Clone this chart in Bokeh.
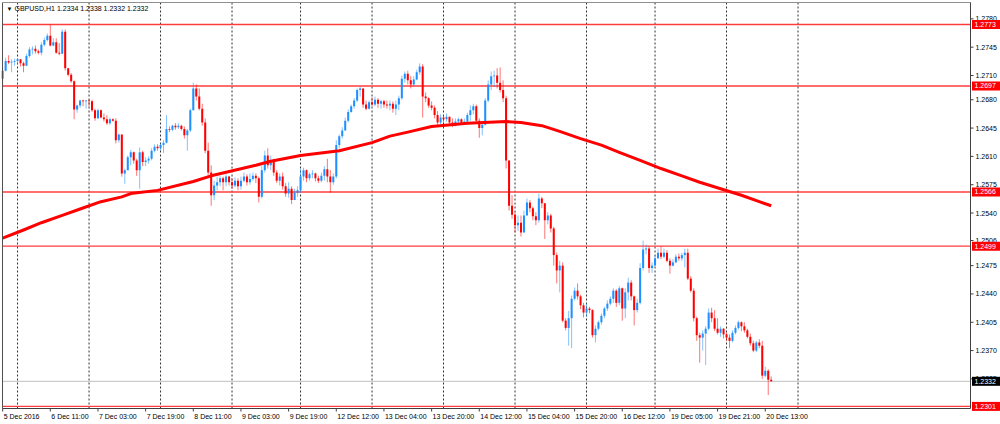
from bokeh.plotting import figure
from bokeh.models import Range1d, ColumnDataSource
from bokeh.embed import file_html
from bokeh.resources import INLINE
from bokeh.core.properties import value

SYMBOL = "GBPUSD,H1"
first_open = 1.2706

closes = [
 1.2716,1.2728,1.2726,1.2727,1.2728,1.2730,1.2725,1.2722,1.2734,1.2742,
 1.2743,1.2740,1.2738,1.2748,1.2754,1.2759,1.2747,1.2751,1.2738,1.2737,
 1.2764,1.2719,1.2711,1.2703,1.2668,1.2673,1.2679,1.2678,1.2679,1.2678,
 1.2667,1.2657,1.2667,1.2658,1.2656,1.2651,1.2656,1.2654,1.2630,1.2637,
 1.2589,1.2593,1.2609,1.2615,1.2605,1.2593,1.2615,1.2603,1.2605,1.2607,
 1.2617,1.2622,1.2620,1.2624,1.2627,1.2644,1.2643,1.2648,1.2646,1.2648,
 1.2644,1.2636,1.2642,1.2667,1.2694,1.2684,1.2669,1.2652,1.2617,1.2590,
 1.2562,1.2574,1.2578,1.2583,1.2578,1.2585,1.2578,1.2574,1.2580,1.2573,
 1.2580,1.2585,1.2578,1.2582,1.2586,1.2583,1.2560,1.2593,1.2611,1.2599,
 1.2605,1.2590,1.2580,1.2585,1.2573,1.2564,1.2570,1.2556,1.2565,1.2568,
 1.2585,1.2593,1.2583,1.2588,1.2589,1.2583,1.2580,1.2586,1.2594,1.2585,
 1.2578,1.2585,1.2624,1.2635,1.2642,1.2654,1.2665,1.2672,1.2679,1.2692,
 1.2694,1.2674,1.2669,1.2677,1.2674,1.2680,1.2675,1.2678,1.2674,1.2673,
 1.2675,1.2669,1.2674,1.2682,1.2706,1.2712,1.2704,1.2699,1.2705,1.2714,
 1.2721,1.2684,1.2682,1.2673,1.2670,1.2661,1.2652,1.2658,1.2656,1.2659,
 1.2652,1.2648,1.2653,1.2656,1.2652,1.2653,1.2661,1.2667,1.2672,1.2654,
 1.2645,1.2649,1.2679,1.2699,1.2709,1.2710,1.2701,1.2692,1.2682,1.2605,
 1.2549,1.2538,1.2525,1.2528,1.2516,1.2537,1.2553,1.2546,1.2536,1.2531,
 1.2558,1.2552,1.2531,1.2537,1.2521,1.2488,1.2469,1.2475,1.2407,1.2398,
 1.2410,1.2434,1.2444,1.2437,1.2426,1.2417,1.2422,1.2420,1.2389,1.2397,
 1.2405,1.2413,1.2422,1.2428,1.2434,1.2444,1.2429,1.2447,1.2422,1.2442,
 1.2454,1.2437,1.2420,1.2429,1.2472,1.2495,1.2496,1.2472,1.2475,1.2484,
 1.2491,1.2486,1.2491,1.2481,1.2475,1.2479,1.2486,1.2484,1.2488,1.2491,
 1.2459,1.2444,1.2410,1.2389,1.2386,1.2391,1.2397,1.2417,1.2410,1.2397,
 1.2392,1.2397,1.2390,1.2386,1.2382,1.2392,1.2398,1.2405,1.2400,1.2395,
 1.2387,1.2379,1.2370,1.2380,1.2376,1.2339,1.2345,1.2334,1.2332]

highs = [
 1.2721,1.2732,1.2735,1.2730,1.2731,1.2731,1.2730,1.2727,1.2737,1.2745,
 1.2746,1.2747,1.2742,1.2751,1.2757,1.2762,1.2773,1.2756,1.2756,1.2750,
 1.2767,1.2767,1.2719,1.2713,1.2704,1.2674,1.2680,1.2680,1.2680,1.2680,
 1.2680,1.2669,1.2669,1.2668,1.2663,1.2661,1.2658,1.2657,1.2657,1.2638,
 1.2637,1.2595,1.2611,1.2618,1.2616,1.2607,1.2621,1.2617,1.2609,1.2610,
 1.2620,1.2625,1.2625,1.2626,1.2630,1.2661,1.2647,1.2649,1.2651,1.2651,
 1.2649,1.2647,1.2644,1.2669,1.2701,1.2699,1.2694,1.2675,1.2657,1.2627,
 1.2599,1.2580,1.2585,1.2586,1.2585,1.2588,1.2586,1.2583,1.2584,1.2583,
 1.2585,1.2590,1.2588,1.2589,1.2590,1.2589,1.2585,1.2598,1.2617,1.2620,
 1.2611,1.2607,1.2593,1.2589,1.2590,1.2577,1.2578,1.2573,1.2570,1.2573,
 1.2595,1.2596,1.2594,1.2590,1.2593,1.2590,1.2586,1.2590,1.2598,1.2607,
 1.2593,1.2589,1.2630,1.2637,1.2646,1.2658,1.2668,1.2674,1.2682,1.2694,
 1.2696,1.2692,1.2679,1.2679,1.2683,1.2684,1.2682,1.2680,1.2680,1.2679,
 1.2679,1.2678,1.2679,1.2685,1.2710,1.2715,1.2716,1.2709,1.2709,1.2717,
 1.2725,1.2724,1.2689,1.2683,1.2678,1.2673,1.2666,1.2662,1.2661,1.2663,
 1.2659,1.2657,1.2657,1.2658,1.2657,1.2657,1.2664,1.2673,1.2675,1.2674,
 1.2657,1.2654,1.2682,1.2704,1.2715,1.2716,1.2719,1.2720,1.2704,1.2685,
 1.2605,1.2562,1.2541,1.2537,1.2537,1.2543,1.2558,1.2556,1.2548,1.2541,
 1.2564,1.2560,1.2549,1.2541,1.2539,1.2523,1.2491,1.2481,1.2479,1.2410,
 1.2419,1.2438,1.2448,1.2453,1.2439,1.2429,1.2428,1.2424,1.2421,1.2401,
 1.2407,1.2416,1.2424,1.2432,1.2437,1.2447,1.2446,1.2450,1.2448,1.2447,
 1.2460,1.2457,1.2438,1.2434,1.2478,1.2506,1.2501,1.2499,1.2479,1.2488,
 1.2496,1.2499,1.2496,1.2494,1.2484,1.2483,1.2489,1.2490,1.2491,1.2496,
 1.2496,1.2462,1.2447,1.2412,1.2392,1.2395,1.2400,1.2422,1.2423,1.2420,
 1.2410,1.2400,1.2398,1.2392,1.2390,1.2395,1.2401,1.2407,1.2406,1.2405,
 1.2397,1.2391,1.2382,1.2382,1.2384,1.2382,1.2350,1.2347,1.2338]

lows = [
 1.2695,1.2715,1.2724,1.2714,1.2722,1.2724,1.2721,1.2714,1.2724,1.2732,
 1.2736,1.2737,1.2736,1.2735,1.2746,1.2752,1.2746,1.2746,1.2737,1.2735,
 1.2738,1.2716,1.2709,1.2701,1.2656,1.2664,1.2670,1.2672,1.2669,1.2672,
 1.2665,1.2654,1.2656,1.2657,1.2653,1.2649,1.2649,1.2653,1.2626,1.2627,
 1.2585,1.2576,1.2593,1.2599,1.2601,1.2586,1.2570,1.2598,1.2598,1.2601,
 1.2605,1.2615,1.2617,1.2617,1.2614,1.2626,1.2640,1.2641,1.2643,1.2644,
 1.2642,1.2632,1.2617,1.2640,1.2667,1.2679,1.2667,1.2648,1.2614,1.2586,
 1.2549,1.2556,1.2568,1.2573,1.2568,1.2573,1.2574,1.2570,1.2572,1.2568,
 1.2569,1.2578,1.2574,1.2575,1.2580,1.2577,1.2553,1.2558,1.2590,1.2595,
 1.2593,1.2586,1.2577,1.2574,1.2569,1.2560,1.2559,1.2551,1.2556,1.2560,
 1.2565,1.2580,1.2578,1.2580,1.2583,1.2579,1.2577,1.2578,1.2580,1.2578,
 1.2565,1.2575,1.2583,1.2620,1.2632,1.2642,1.2652,1.2664,1.2669,1.2677,
 1.2684,1.2670,1.2667,1.2668,1.2672,1.2672,1.2670,1.2669,1.2670,1.2669,
 1.2667,1.2664,1.2661,1.2667,1.2680,1.2701,1.2699,1.2694,1.2696,1.2704,
 1.2711,1.2658,1.2677,1.2670,1.2667,1.2657,1.2649,1.2649,1.2652,1.2653,
 1.2649,1.2646,1.2647,1.2649,1.2649,1.2649,1.2651,1.2654,1.2662,1.2651,
 1.2633,1.2636,1.2648,1.2677,1.2692,1.2696,1.2694,1.2689,1.2677,1.2595,
 1.2543,1.2533,1.2516,1.2518,1.2511,1.2518,1.2538,1.2541,1.2531,1.2525,
 1.2528,1.2546,1.2508,1.2526,1.2516,1.2475,1.2453,1.2442,1.2405,1.2395,
 1.2376,1.2373,1.2432,1.2433,1.2421,1.2411,1.2412,1.2416,1.2386,1.2380,
 1.2395,1.2402,1.2410,1.2419,1.2426,1.2429,1.2424,1.2426,1.2407,1.2410,
 1.2432,1.2432,1.2401,1.2417,1.2427,1.2469,1.2489,1.2466,1.2466,1.2478,
 1.2484,1.2483,1.2484,1.2479,1.2465,1.2474,1.2478,1.2481,1.2481,1.2473,
 1.2457,1.2442,1.2406,1.2382,1.2355,1.2370,1.2352,1.2395,1.2405,1.2394,
 1.2390,1.2387,1.2385,1.2382,1.2373,1.2380,1.2390,1.2396,1.2394,1.2392,
 1.2385,1.2376,1.2368,1.2368,1.2373,1.2335,1.2337,1.2315,1.2332]

# moving average (bar index, price)
ma_idx = [0, 7, 13, 20, 26, 33, 40, 43, 52, 64, 70, 85, 90, 100, 113, 124, 130, 136,
          144, 156, 169, 174, 181, 187, 194, 201, 207, 214, 221, 228, 234, 241, 248,
          254, 258]
ma_val = [1.2509, 1.2519, 1.2528, 1.2537, 1.2545, 1.2554, 1.2560, 1.2564, 1.2568,
          1.2579, 1.2586, 1.2599, 1.2604, 1.2611, 1.2617, 1.2627, 1.2635, 1.2640,
          1.2647, 1.2651, 1.2653, 1.2652, 1.2648, 1.2641, 1.2632, 1.2624, 1.2615,
          1.2605, 1.2595, 1.2586, 1.2578, 1.2570, 1.2562, 1.2554, 1.2549]

level_lines = [1.2773, 1.2697, 1.2566, 1.2499, 1.2301]
bid_price = 1.2332

price_ticks = [1.2335, 1.2370, 1.2405, 1.2440, 1.2475, 1.2506, 1.2540, 1.2575,
               1.2610, 1.2645, 1.2680, 1.2710, 1.2745, 1.2780]

time_tick_idx = [0, 16, 32, 48, 64, 80, 96, 112, 128, 144, 160, 176, 192, 208, 224, 240, 256]
time_tick_labels = ["5 Dec 2016", "6 Dec 11:00", "7 Dec 03:00", "7 Dec 19:00", "8 Dec 11:00",
                    "9 Dec 03:00", "9 Dec 19:00", "12 Dec 12:00", "13 Dec 04:00", "13 Dec 20:00",
                    "14 Dec 12:00", "15 Dec 04:00", "15 Dec 20:00", "16 Dec 12:00",
                    "19 Dec 05:00", "19 Dec 21:00", "20 Dec 13:00"]

day_start_idx = [5, 29, 53, 77, 100, 124, 148, 172, 196, 219, 243, 267]

# visible chart window (bar index / price)
CX0, CX1 = -0.05, 324.9
CY0, CY1 = 1.22984, 1.28002

# page layout in pixels: chart area inside a 1000x424 canvas
W, H = 1000, 424
PAD_L, PAD_T, PAD_R, PAD_B = 2, 2, 30, 16
ppx = (W - PAD_L - PAD_R) / (CX1 - CX0)
ppy = (H - PAD_T - PAD_B) / (CY1 - CY0)

FONT = value("Liberation Sans")
BULL = "#1e90ff"
BEAR = "#ff0000"
AXIS = "#404040"

n = len(closes)
opens = [first_open] + closes[:-1]
idx = list(range(n))
colors = [BULL if c > o else BEAR for o, c in zip(opens, closes)]
tops = [max(o, c) for o, c in zip(opens, closes)]
bots = [min(o, c) - (0.00006 if o == c else 0) for o, c in zip(opens, closes)]
his = [max(h, t) for h, t in zip(highs, tops)]
los = [min(l, b) for l, b in zip(lows, bots)]
src = ColumnDataSource(dict(x=idx, top=tops, bottom=bots, high=his, low=los, color=colors))

p = figure(width=W, height=H,
           x_range=Range1d(CX0 - PAD_L / ppx, CX1 + PAD_R / ppx),
           y_range=Range1d(CY0 - PAD_B / ppy, CY1 + PAD_T / ppy),
           output_backend="svg", toolbar_location=None,
           x_axis_type=None, y_axis_type=None,
           min_border=0, min_border_left=0, min_border_right=0,
           min_border_top=0, min_border_bottom=0)
p.background_fill_color = "white"
p.border_fill_color = "white"
p.outline_line_color = None
p.xgrid.visible = False
p.ygrid.visible = False

# day grid (dashed verticals)
p.segment(x0=day_start_idx, y0=[CY0] * len(day_start_idx), x1=day_start_idx,
          y1=[CY1] * len(day_start_idx), line_color="#303030", line_dash="2 2", line_width=1)

# bid line and horizontal levels
p.segment(x0=[CX0], y0=[bid_price], x1=[CX1], y1=[bid_price], line_color="#c0c0c0", line_width=1)
p.segment(x0=[CX0] * len(level_lines), y0=level_lines, x1=[CX1] * len(level_lines),
          y1=level_lines, line_color="#ff3c3c", line_width=1.3)

# candles
p.segment(x0="x", y0="low", x1="x", y1="high", source=src, line_color="color",
          line_alpha=0.55, line_width=1)
p.vbar(x="x", width=0.68, top="top", bottom="bottom", source=src, fill_color="color",
       line_color=None)

# moving average
p.line(ma_idx, ma_val, line_color="#ff0000", line_width=3, line_join="round")

# chart frame: left + top border, right price axis line, bottom time axis line
p.segment(x0=[CX0, CX0, CX1, CX0], y0=[CY0, CY1, CY0, CY0],
          x1=[CX0, CX1, CX1, CX1], y1=[CY1, CY1, CY1, CY0],
          line_color=["#505050", "#909090", AXIS, AXIS], line_width=1)

# price axis ticks + labels
tick_len_x = 3 / ppx
p.segment(x0=[CX1] * len(price_ticks), y0=price_ticks, x1=[CX1 + tick_len_x] * len(price_ticks),
          y1=price_ticks, line_color=AXIS, line_width=1)
p.text(x=[CX1] * len(price_ticks), y=price_ticks, text=[f"{t:.4f}" for t in price_ticks],
       x_offset=5, text_font=FONT, text_font_size="7px", text_color="#000000",
       text_align="left", text_baseline="middle")

# time axis ticks + labels (left aligned at the tick, like the terminal)
tick_len_y = 3 / ppy
p.segment(x0=time_tick_idx, y0=[CY0] * len(time_tick_idx), x1=time_tick_idx,
          y1=[CY0 - tick_len_y] * len(time_tick_idx), line_color=AXIS, line_width=1)
p.text(x=time_tick_idx, y=[CY0] * len(time_tick_idx), text=time_tick_labels,
       x_offset=1, y_offset=4, text_font=FONT, text_font_size="7px", text_color="#000000",
       text_align="left", text_baseline="top")

# price tags on the axis
tag_prices = level_lines + [bid_price]
tag_colors = ["#ff0000"] * len(level_lines) + ["#000000"]
tag_w = 28
p.rect(x=[CX1 + (tag_w / 2 + 1.5) / ppx] * len(tag_prices), y=tag_prices,
       width=tag_w, height=9, width_units="screen", height_units="screen",
       fill_color=tag_colors, line_color=None)
p.text(x=[CX1] * len(tag_prices), y=tag_prices, text=[f"{t:.4f}" for t in tag_prices],
       x_offset=4, text_font=FONT, text_font_size="7px", text_color="#ffffff",
       text_align="left", text_baseline="middle")

# header
p.text(x=[CX0], y=[CY1], text=["\u25bc"], x_offset=4, y_offset=3, text_font=FONT,
       text_font_size="6px", text_color="#000000", text_align="left", text_baseline="top")
header = f"{SYMBOL}  {opens[-1]:.4f} {highs[-1]:.4f} {lows[-1]:.4f} {closes[-1]:.4f}"
p.text(x=[CX0], y=[CY1], text=[header], x_offset=12, y_offset=2, text_font=FONT,
       text_font_size="7px", text_color="#000000", text_align="left", text_baseline="top")

open("out.html", "w").write(file_html(p, INLINE))
